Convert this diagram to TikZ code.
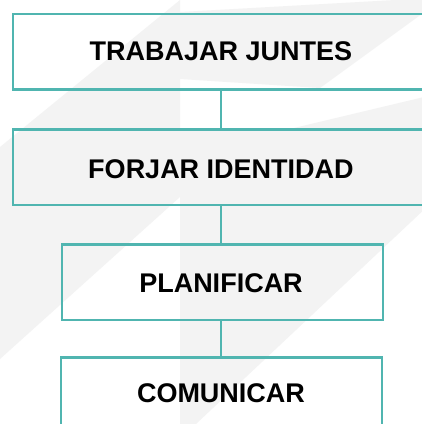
\documentclass[tikz,border=0pt]{standalone}
\usepackage{fontspec}
\setmainfont{Liberation Sans}
\definecolor{tealline}{HTML}{50B5B0}
\definecolor{wmgrey}{HTML}{F3F3F3}
\begin{document}
\begin{tikzpicture}[x=1pt,y=-1pt,
  frame/.style={draw=tealline, line width=2.2pt, rectangle, inner sep=0pt, outer sep=0pt},
  lbl/.style={font=\fontsize{27}{32}\selectfont\bfseries, text=black, inner sep=0pt},
  conn/.style={draw=tealline, line width=2.2pt}]
\useasboundingbox (0,0) rectangle (422,424);
\clip (0,0) rectangle (422,424);
\fill[white] (0,0) rectangle (422,424);
% watermark
\fill[wmgrey] (0,147) -- (180,0) -- (180,12) -- (395,0) -- (441,0) -- (320,88) -- (180,79) -- (180,197) -- (0,359) -- cycle;
\fill[wmgrey] (180,129) -- (294,128) -- (445,92) -- (445,190) -- (196,424) -- (180,424) -- cycle;
% frames
\node[frame, minimum width=432.3pt, minimum height=75.5pt] (b1) at (228.85,51.75) {};
\node[frame, minimum width=432.3pt, minimum height=75.3pt] (b2) at (228.85,167.15) {};
\node[frame, minimum width=321pt, minimum height=75.3pt] (b3) at (222.3,282.15) {};
\node[frame, minimum width=321pt, minimum height=82.5pt] (b4) at (221.7,398.75) {};
% labels
\node[lbl] (t1) at (221,51.3) {TRABAJAR JUNTES};
\node[lbl] (t2) at (221,169.3) {FORJAR IDENTIDAD};
\node[lbl] (t3) at (221,283) {PLANIFICAR};
\node[lbl] (t4) at (221,393.7) {COMUNICAR};
% connectors
\draw[conn] (b1.south -| t1) -- (b2.north -| t1);
\draw[conn] (b2.south -| t1) -- (b3.north -| t1);
\draw[conn] (b3.south -| t1) -- (b4.north -| t1);
\end{tikzpicture}
\end{document}
